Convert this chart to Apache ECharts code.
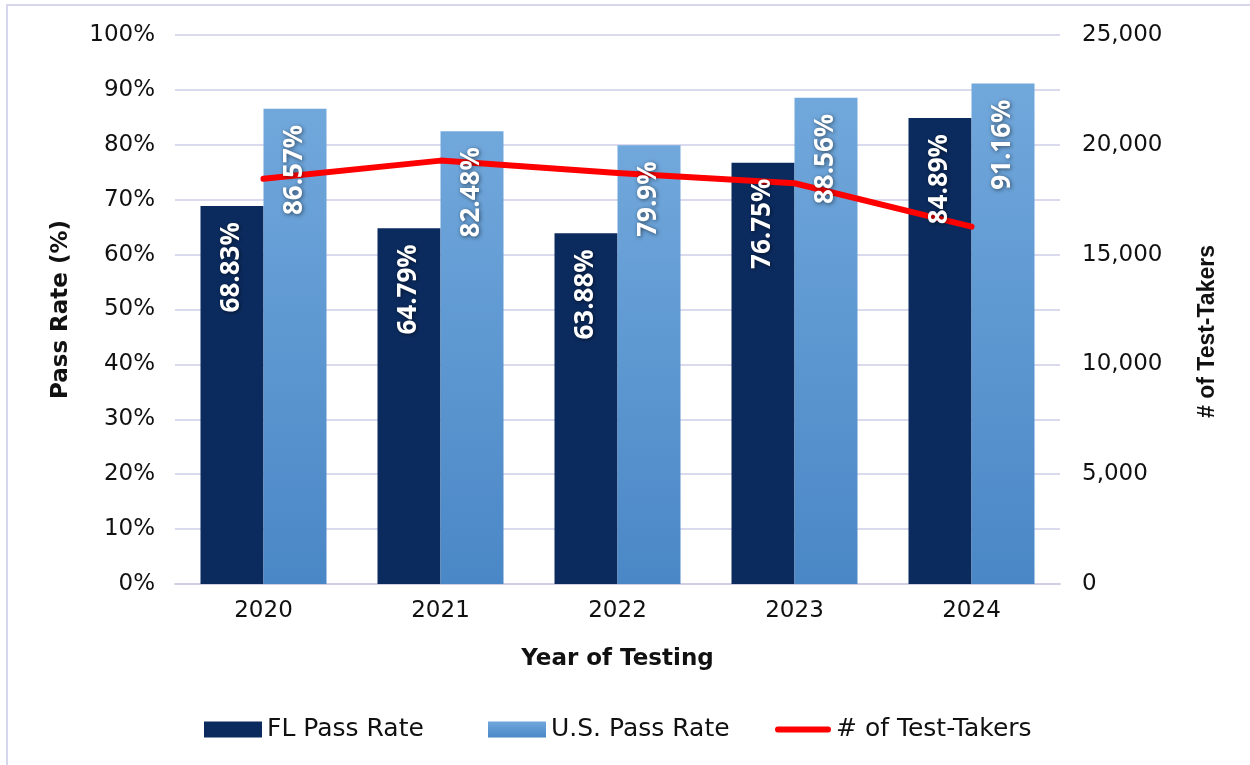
<!DOCTYPE html>
<html>
<head>
<meta charset="utf-8">
<script src="https://cdn.jsdelivr.net/npm/echarts@6/dist/echarts.min.js"></script>
<style>
html,body{margin:0;padding:0;background:#fff;}
#chart{width:1250px;height:765px;}
</style>
</head>
<body>
<div id="chart"></div>
<script>
const years = ['2020', '2021', '2022', '2023', '2024'];
const flPassRate = [68.83, 64.79, 63.88, 76.75, 84.89];
const usPassRate = [86.57, 82.48, 79.9, 88.56, 91.16];
const testTakers = [18450, 19280, 18720, 18250, 16270];
const seriesNames = ['FL Pass Rate', 'U.S. Pass Rate', '# of Test-Takers'];

const tickFont = 'DejaVu Sans';
const barLabel = {
  show: true,
  position: 'insideTop',
  rotate: 90,
  align: 'right',
  verticalAlign: 'middle',
  distance: 16,
  color: '#ffffff',
  fontFamily: 'Open Sans',
  fontWeight: 'bold',
  fontSize: 26,
  textShadowColor: 'rgba(0,0,0,0.55)',
  textShadowBlur: 4,
  textShadowOffsetX: 1,
  textShadowOffsetY: 1,
  formatter: p => p.value + '%'
};
const legendText = { fontFamily: tickFont, fontSize: 25, color: '#111' };

const chart = echarts.init(document.getElementById('chart'));
chart.setOption({
  animation: false,
  backgroundColor: '#ffffff',
  graphic: [{
    type: 'rect',
    shape: { x: 7, y: 5, width: 1400, height: 900 },
    style: { fill: 'none', stroke: '#d6d6ec', lineWidth: 2 },
    silent: true
  }],
  grid: { left: 175, right: 190, top: 35, bottom: 181 },
  legend: [{
    left: 204, top: 717, padding: 0, itemWidth: 58, itemHeight: 16,
    textStyle: legendText,
    data: [{ name: seriesNames[0], icon: 'rect' }]
  }, {
    left: 488, top: 717, padding: 0, itemWidth: 58, itemHeight: 16,
    textStyle: legendText,
    data: [{ name: seriesNames[1], icon: 'rect' }]
  }, {
    left: 775, top: 717, padding: 0, itemWidth: 56, itemHeight: 16,
    textStyle: legendText,
    data: [{ name: seriesNames[2], icon: 'path://M3,0 H55 A3,3 0 0 1 55,6 H3 A3,3 0 0 1 3,0 Z', itemStyle: { color: '#ff0000' } }]
  }],
  xAxis: [{
    type: 'category',
    data: years,
    name: 'Year of Testing',
    nameLocation: 'middle',
    nameGap: 64,
    nameTextStyle: { fontFamily: tickFont, fontWeight: 'bold', fontSize: 23, color: '#111' },
    axisLine: { lineStyle: { color: '#d0d0e4', width: 2 } },
    axisTick: { show: false },
    axisLabel: { fontFamily: tickFont, fontSize: 23, color: '#111', margin: 16 }
  }, {
    type: 'category',
    data: years,
    position: 'bottom',
    show: false
  }],
  yAxis: [{
    type: 'value',
    min: 0, max: 100, interval: 10,
    name: 'Pass Rate (%)',
    nameLocation: 'middle',
    nameGap: 102,
    nameRotate: 90,
    nameTextStyle: { fontFamily: tickFont, fontWeight: 'bold', fontSize: 23, color: '#111' },
    axisLine: { show: false },
    axisTick: { show: false },
    axisLabel: { fontFamily: tickFont, fontSize: 23, color: '#111', margin: 20, formatter: '{value}%' },
    splitLine: { lineStyle: { color: '#dadaee', width: 2 } }
  }, {
    type: 'value',
    min: 0, max: 25000, interval: 5000,
    name: '# of Test-Takers',
    nameLocation: 'middle',
    nameGap: 136,
    nameRotate: 90,
    nameTextStyle: { fontFamily: 'Liberation Sans', fontWeight: 'bold', fontSize: 23, color: '#111', padding: [0, 44, 0, 0] },
    axisLine: { show: false },
    axisTick: { show: false },
    splitLine: { show: false },
    axisLabel: { fontFamily: tickFont, fontSize: 23, color: '#111', margin: 22,
      formatter: v => v.toLocaleString('en-US') }
  }],
  series: [{
    name: seriesNames[0],
    type: 'bar',
    data: flPassRate,
    barWidth: 63,
    barGap: '0%',
    itemStyle: { color: '#0b2b5f' },
    z: 2
  }, {
    name: seriesNames[1],
    type: 'bar',
    data: usPassRate,
    barWidth: 63,
    barGap: '0%',
    itemStyle: {
      color: new echarts.graphic.LinearGradient(0, 0, 0, 1, [
        { offset: 0, color: '#71a8dc' },
        { offset: 1, color: '#4a87c6' }
      ])
    },
    z: 2
  }, {
    name: seriesNames[2],
    type: 'line',
    yAxisIndex: 1,
    data: testTakers,
    showSymbol: false,
    symbol: 'none',
    lineStyle: { color: '#ff0000', width: 6, cap: 'round', join: 'round' },
    itemStyle: { color: '#ff0000' },
    z: 3
  }, {
    name: 'FL labels',
    type: 'bar',
    xAxisIndex: 1,
    data: flPassRate,
    barWidth: 63,
    barGap: '0%',
    itemStyle: { color: 'rgba(0,0,0,0)' },
    label: barLabel,
    silent: true,
    z: 4
  }, {
    name: 'US labels',
    type: 'bar',
    xAxisIndex: 1,
    data: usPassRate,
    barWidth: 63,
    barGap: '0%',
    itemStyle: { color: 'rgba(0,0,0,0)' },
    label: barLabel,
    silent: true,
    z: 4
  }]
});
</script>
</body>
</html>
